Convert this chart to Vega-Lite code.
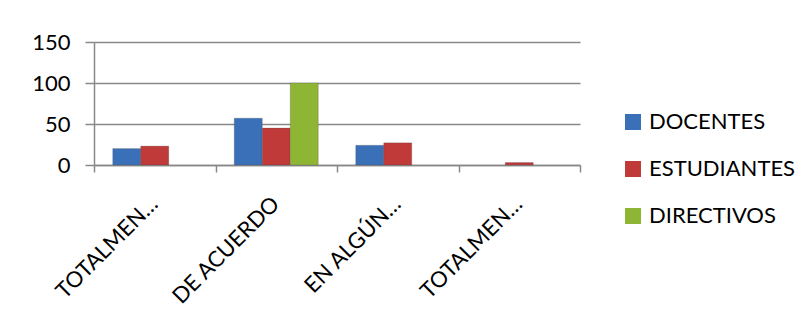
{
  "$schema": "https://vega.github.io/schema/vega-lite/v6.json",
  "autosize": {"type": "none"},
  "width": 486,
  "height": 123,
  "padding": {"left": 94, "top": 42, "right": 227, "bottom": 153},
  "background": "white",
  "config": {
    "font": "Lato",
    "view": {"stroke": null},
    "axis": {"labelFont": "Lato", "labelColor": "black", "labelFontSize": 22, "domainColor": "#888888", "tickColor": "#888888", "gridColor": "#888888", "domainWidth": 1.5, "tickWidth": 1.5, "gridWidth": 1.5}
  },
  "data": {
    "values": [
      {"categoria": "TOTALMENTE DE ACUERDO", "grupo": "DOCENTES", "valor": 20},
      {"categoria": "TOTALMENTE DE ACUERDO", "grupo": "ESTUDIANTES", "valor": 23},
      {"categoria": "DE ACUERDO", "grupo": "DOCENTES", "valor": 57},
      {"categoria": "DE ACUERDO", "grupo": "ESTUDIANTES", "valor": 45},
      {"categoria": "DE ACUERDO", "grupo": "DIRECTIVOS", "valor": 100},
      {"categoria": "EN ALGÚN GRADO DE ACUERDO", "grupo": "DOCENTES", "valor": 24},
      {"categoria": "EN ALGÚN GRADO DE ACUERDO", "grupo": "ESTUDIANTES", "valor": 27},
      {"categoria": "TOTALMENTE EN DESACUERDO", "grupo": "ESTUDIANTES", "valor": 3}
    ]
  },
  "mark": {"type": "bar", "stroke": "#444444", "strokeWidth": 0.5, "strokeOpacity": 0.5},
  "encoding": {
    "x": {
      "field": "categoria", "type": "nominal", "sort": null, "title": null,
      "scale": {"paddingInner": 0, "paddingOuter": 0},
      "axis": {
        "tickBand": "extent", "labelAngle": -45, "tickSize": 7, "labelPadding": 21, "labelOffset": -8,
        "labelExpr": "!datum.label ? '' : (datum.label == 'DE ACUERDO' ? datum.label : slice(datum.label, 0, 8) + '…')"
      }
    },
    "xOffset": {
      "field": "grupo", "type": "nominal", "sort": ["DOCENTES", "ESTUDIANTES", "DIRECTIVOS"],
      "scale": {"domain": ["DOCENTES", "ESTUDIANTES", "DIRECTIVOS"], "paddingInner": 0, "paddingOuter": 0.67}
    },
    "y": {
      "field": "valor", "type": "quantitative", "title": null,
      "scale": {"domain": [0, 150]},
      "axis": {"values": [0, 50, 100, 150], "tickSize": 9, "labelPadding": 15, "grid": true}
    },
    "color": {
      "field": "grupo", "type": "nominal", "sort": ["DOCENTES", "ESTUDIANTES", "DIRECTIVOS"],
      "scale": {"domain": ["DOCENTES", "ESTUDIANTES", "DIRECTIVOS"], "range": ["#3a70b8", "#c03a3a", "#8fb535"]},
      "legend": {
        "title": null, "orient": "none", "legendX": 528, "legendY": 69,
        "symbolType": "square", "symbolSize": 256, "symbolStrokeWidth": 0,
        "labelFontSize": 22, "labelColor": "black", "labelFont": "Lato",
        "rowPadding": 25, "labelOffset": 5
      }
    }
  }
}
